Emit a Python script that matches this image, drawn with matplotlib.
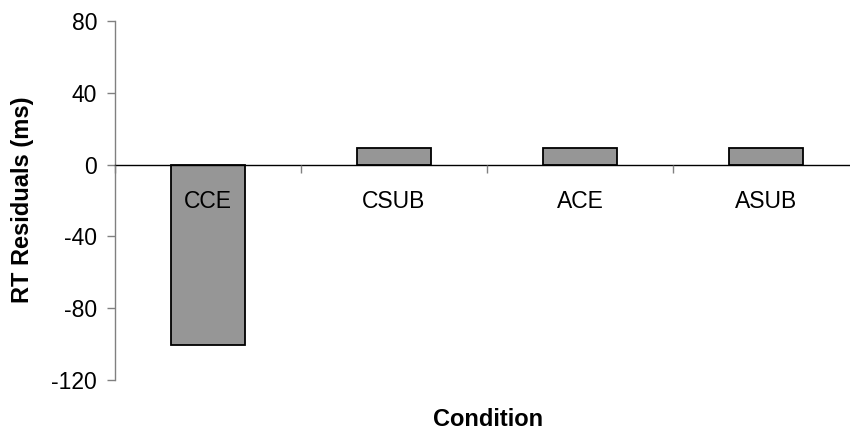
import matplotlib
matplotlib.use("Agg")
import matplotlib.pyplot as plt

conditions = ["CCE", "CSUB", "ACE", "ASUB"]
residuals = [-100.5, 9.5, 9.5, 9.5]
yticks = [-120, -80, -40, 0, 40, 80]

plt.rcParams['font.family'] = ['Liberation Sans', 'DejaVu Sans']

fig = plt.figure(figsize=(8.5, 4.32), dpi=100)
# plot area runs a little past the right edge, like the original
ax = fig.add_axes([115 / 850, 52 / 432, 744 / 850, 359 / 432])

x = list(range(len(conditions)))
ax.bar(x, residuals, width=0.403, color="#969696", edgecolor="black", linewidth=1.3, zorder=1)

ax.set_xlim(-0.5, len(conditions) - 0.5)
ax.set_ylim(-120, 80)
ax.set_yticks(yticks)
ax.set_yticklabels([str(v) for v in yticks], fontsize=16.5)

for s in ["top", "right"]:
    ax.spines[s].set_visible(False)
ax.spines["left"].set_color("#808080")
ax.spines["left"].set_linewidth(1)
ax.spines["bottom"].set_position(("data", 0))
ax.spines["bottom"].set_color("black")
ax.spines["bottom"].set_linewidth(1)
ax.spines["bottom"].set_zorder(3)
ax.xaxis.set_zorder(3)

ax.tick_params(axis="y", direction="out", length=5.8, width=1, color="#808080", pad=7)
ax.set_xticks(x)
ax.set_xticklabels(conditions, fontsize=16.5)
ax.tick_params(axis="x", which="major", length=0, pad=18)
ax.set_xticks([i - 0.5 for i in range(len(conditions) + 1)], minor=True)
ax.tick_params(axis="x", which="minor", direction="out", length=5.8, width=1, color="#808080")

fig.text(23 / 850, 1 - 200 / 432, "RT Residuals (ms)", rotation=90, ha="center", va="center",
         fontsize=17, fontweight="bold")
fig.text(488 / 850, 1 - 420 / 432, "Condition", ha="center", va="center",
         fontsize=17, fontweight="bold")

fig.savefig("out.png", dpi=100)
